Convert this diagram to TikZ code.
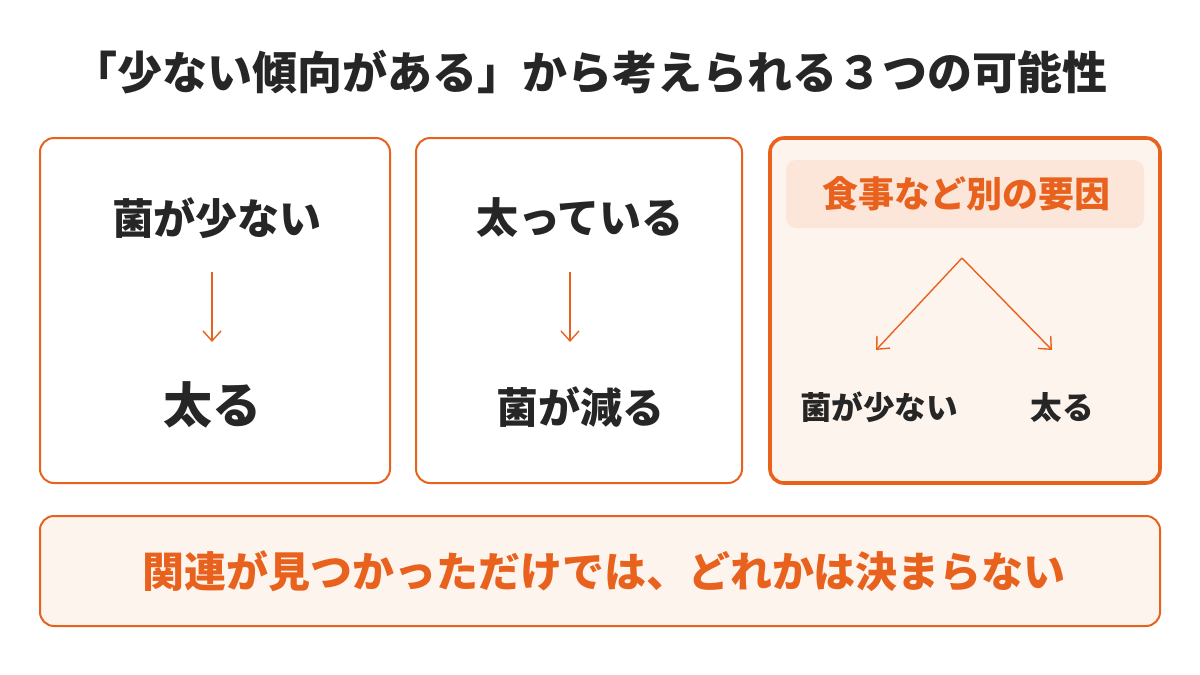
\documentclass[tikz,border=0pt]{standalone}
\usepackage{fontspec}
\setmainfont{Noto Sans CJK JP}
\definecolor{org}{HTML}{E8621E}
\definecolor{lt}{HTML}{FEF4EE}
\definecolor{lt2}{HTML}{FCE6DA}
\definecolor{ink}{HTML}{262626}
\begin{document}
\begin{tikzpicture}[x=0.5pt,y=-0.5pt,
 box/.style={draw=org,line width=1pt,rounded corners=7pt},
 t/.style={text=ink,font=\fontsize{21}{24}\selectfont\bfseries},
 s/.style={text=ink,font=\fontsize{15.8}{18}\selectfont\bfseries},
 ar/.style={draw=org,line width=0.7pt,-{Straight Barb[length=5pt,width=9pt]}}]
\usetikzlibrary{arrows.meta}
\fill[white] (0,0) rectangle (1200,675);
\path[use as bounding box] (0,0) rectangle (1200,675);
\node[text=ink,font=\fontsize{22.5}{26}\selectfont\bfseries] (title) at (590,72) {「少ない傾向がある」から考えられる３つの可能性};
\node[box,minimum width=175pt,minimum height=172.5pt] (b1) at (215,310.5) {};
\node[box,minimum width=163pt,minimum height=172.5pt] (b2) at (579,310.5) {};
\node[box,fill=lt,line width=1.8pt,minimum width=195pt,minimum height=172.5pt] (b3) at (965,310.5) {};
\node[fill=lt2,rounded corners=5pt,minimum width=179pt,minimum height=34pt] (lab) at (965,194) {};
\node[text=org,font=\fontsize{18}{21}\selectfont\bfseries] (labt) at (966,194) {食事など別の要因};
\node[box,fill=lt,minimum width=560pt,minimum height=55pt] (bot) at (600,571) {};
\node[text=org,font=\fontsize{21}{24}\selectfont\bfseries] (bott) at (604,571) {関連が見つかっただけでは、どれかは決まらない};
\node[t] (a1) at (217,218) {菌が少ない};
\node[t,font=\fontsize{24.5}{28}\selectfont\bfseries] (a2) at (212,405) {太る};
\draw[ar] (212,272) -- (212,342);
\node[t] (c1) at (580,218) {太っている};
\node[t] (c2) at (580,407) {菌が減る};
\draw[ar] (570,272) -- (570,342);
\coordinate (top) at (962,258);
\coordinate (l) at (876,350);
\coordinate (r) at (1052,350);
\draw[ar] (top) -- (l);
\draw[ar] (top) -- (r);
\node[s] (d1) at (879,407) {菌が少ない};
\node[s] (d2) at (1062,407) {太る};
\end{tikzpicture}
\end{document}
